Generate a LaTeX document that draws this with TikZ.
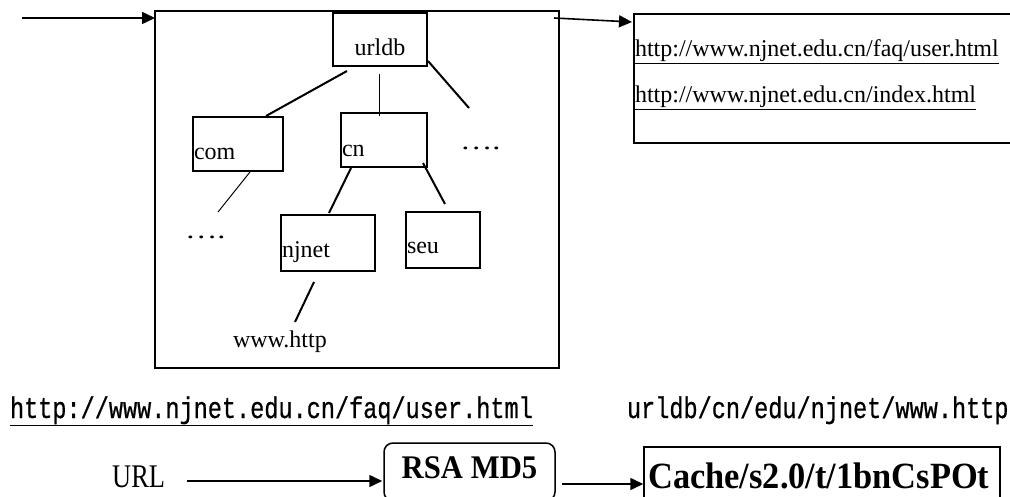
\documentclass[tikz,border=0pt]{standalone}
\usepackage{fontspec}
\setmainfont{Liberation Serif}
\newfontfamily\condmono[FakeStretch=0.785,FakeBold=0.6]{Liberation Mono}
\newfontfamily\narrowserif[FakeStretch=0.93]{Liberation Serif}
\newfontfamily\urlserif[FakeStretch=0.8]{Liberation Serif}
\newfontfamily\widedots[FakeStretch=1.35]{Liberation Serif}
\usetikzlibrary{arrows.meta,calc}
\tikzset{
  box/.style={draw, line width=2pt, inner sep=0pt, outer sep=0pt},
  lbl/.style={inner sep=0pt, outer sep=0pt, anchor=base west, font=\fontsize{24}{28}\selectfont},
  dotlbl/.style={inner sep=0pt, outer sep=0pt, anchor=base west, font=\widedots\fontsize{24}{28}\selectfont},
  monolbl/.style={inner sep=0pt, outer sep=0pt, anchor=base west, font=\condmono\fontsize{30}{34}\selectfont},
  thickln/.style={line width=2pt},
  thinln/.style={line width=1pt},
  arr/.style={line width=1.6pt, -{Triangle[length=13pt,width=12pt]}}
}
\begin{document}
\begin{tikzpicture}[x=1pt,y=-1pt]
\useasboundingbox (0,0) rectangle (1010,497);
\clip (0,0) rectangle (1010,497);

% big container
\node[box, minimum width=404pt, minimum height=357pt] (big) at (357,189.5) {};
% tree boxes
\node[box, minimum width=94pt, minimum height=53pt] (urldb) at (380,39.5) {};
\node[lbl, anchor=base] (urldbt) at (380,56) {urldb};
\node[box, minimum width=90pt, minimum height=54pt] (com) at (238,144) {};
\node[lbl] (comt) at (194,160) {com};
\node[box, minimum width=86pt, minimum height=54pt] (cn) at (384,140) {};
\node[lbl] (cnt) at (342,157) {cn};
\node[box, minimum width=94pt, minimum height=56pt] (njnet) at (328,243) {};
\node[lbl] (njnett) at (282,258) {njnet};
\node[box, minimum width=74pt, minimum height=56pt] (seu) at (443,240) {};
\node[lbl] (seut) at (407,254) {seu};
\node[dotlbl] (dotsR) at (460,150) {….};
\node[dotlbl] (dotsL) at (185,239) {….};
\node[lbl] (www) at (233,347) {www.http};

\coordinate (e3) at (469,108);
\coordinate (e4) at (218,212);
\coordinate (e7) at (295,322);

\draw[thickln] ($(urldb.south)+(-33,5)$) -- ($(com.north)+(28,-1)$);
\draw[thinln] ($(urldb.south)+(-1,8)$) -- ($(cn.north)+(-5,3)$);
\draw[thickln] ($(urldb.south east)+(1,-5)$) -- (e3);
\draw[thinln] ($(com.south)+(12,1)$) -- (e4);
\draw[thickln] ($(cn.south)+(-33,1)$) -- ($(njnet.north)+(1,-2)$);
\draw[thickln] ($(cn.south)+(39,-4)$) -- ($(seu.north)+(2,-8)$);
\draw[thickln] ($(njnet.south)+(-14,11)$) -- (e7);

% right list box
\node[box, minimum width=380pt, minimum height=129pt] (rbox) at (824,78.5) {};
\node[lbl] (u1) at (635,57) {\underline{http://www.njnet.edu.cn/faq/user.html}};
\node[lbl] (u2) at (635,103) {\underline{http://www.njnet.edu.cn/index.html}};

% arrows top
\coordinate (in) at (22,18);
\draw[arr] (in) -- ($(big.north west)+(0,7)$);
\draw[arr] ($(big.north east)+(-5,7)$) -- ($(rbox.north west)+(-2,8)$);

% bottom texts
\node[monolbl] (bt1) at (10,418) {\underline{http://www.njnet.edu.cn/faq/user.html}};
\node[monolbl] (bt2) at (627,418) {urldb/cn/edu/njnet/www.http};

% bottom flow
\node[inner sep=0pt, anchor=base west, font=\urlserif\fontsize{33}{36}\selectfont] (url) at (112,487) {URL};
\coordinate (a1) at (187,481);
\node[draw, line width=1.5pt, rounded corners=9pt, minimum width=171pt, minimum height=58pt, inner sep=0pt] (rsa) at (469.5,472) {};
\node[inner sep=0pt, anchor=base, font=\narrowserif\bfseries\fontsize{33}{36}\selectfont] (rsat) at (469.5,478) {RSA MD5};
\node[draw, line width=1.5pt, minimum width=356pt, minimum height=54pt, inner sep=0pt] (cache) at (822,474) {};
\node[inner sep=0pt, anchor=base west, font=\narrowserif\bfseries\fontsize{37}{40}\selectfont] (cachet) at (648,488) {Cache/s2.0/t/1bnCsPOt};
\draw[arr] (a1) -- ($(rsa.west)+(-1,9)$);
\draw[arr] ($(rsa.east)+(6,12)$) -- ($(cache.west)+(0,10)$);
\end{tikzpicture}
\end{document}
